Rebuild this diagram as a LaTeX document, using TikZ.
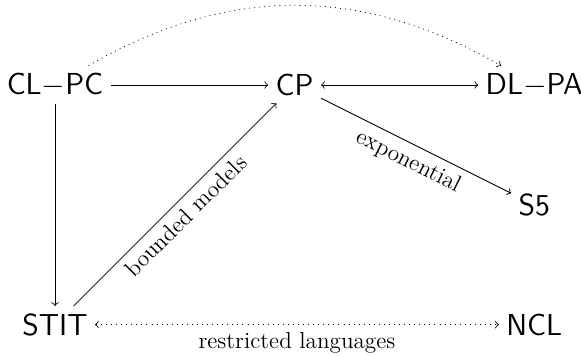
\documentclass[tikz,border=0pt]{standalone}
\usepackage{amsmath}
\usepackage{tikz}

\begin{document}
\begin{tikzpicture}[
  sys/.style={font=\Large\sffamily},
  red/.style={->},
  both/.style={<->},
  tr/.style={dotted},
  lab/.style={midway, sloped, below, font=\fontsize{11}{13}\selectfont}
]
\useasboundingbox (-0.918,-4.524) rectangle (8.781,1.419);

% --- Nodes (three columns) ---
\node[sys] (clpc) at (0,0)  {CL$-$PC};
\node[sys] (cp)   at (4,0)  {CP};
\node[sys] (dlpa) at (8,0)  {DL$-$PA};
\node[sys] (s5)   at (8,-2) {S5};
\node[sys] (stit) at (0,-4) {STIT};
\node[sys] (ncl)  at (8,-4) {NCL};

% --- Reductions ---
\draw[red] (clpc) -- (cp);
\draw[both] (cp) -- (dlpa);
\draw[red] (clpc) -- (stit);
\draw[red] (stit) -- node[lab] {bounded models} (cp);
\draw[red] (cp) -- node[lab] {exponential} (s5);

% --- Dotted links ---
\draw[tr, ->] (clpc) to[bend left=30] (dlpa);
\draw[tr, <->] (stit) -- node[below, font=\fontsize{11}{13}\selectfont] {restricted languages} (ncl);

\end{tikzpicture}
\end{document}
